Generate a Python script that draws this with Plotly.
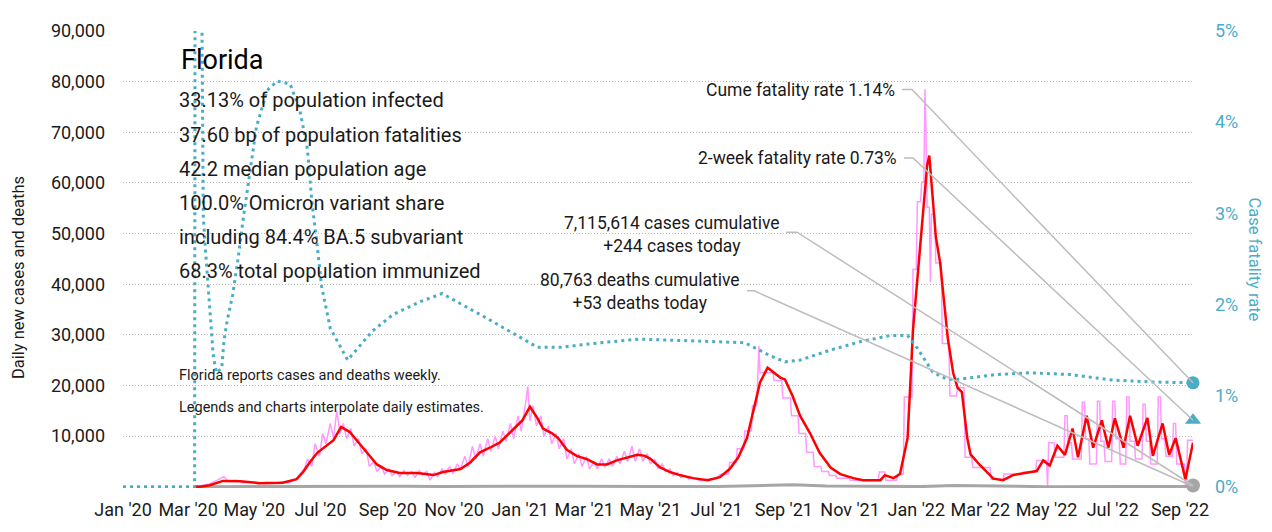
import plotly.graph_objects as go

# ---------------- data ----------------
avg_dates = [
    "2020-03-07", "2020-03-12", "2020-03-21", "2020-04-02", "2020-04-18", "2020-05-06", "2020-05-27",
    "2020-06-09", "2020-06-15", "2020-06-21", "2020-06-28", "2020-07-07", "2020-07-13", "2020-07-20",
    "2020-07-28", "2020-08-06", "2020-08-13", "2020-08-22", "2020-08-31", "2020-09-12", "2020-09-28",
    "2020-10-13", "2020-10-22", "2020-11-07", "2020-11-16", "2020-11-25", "2020-12-04", "2020-12-13",
    "2020-12-25", "2021-01-03", "2021-01-10", "2021-01-17", "2021-01-22", "2021-01-30", "2021-02-05",
    "2021-02-13", "2021-02-22", "2021-03-04", "2021-03-13", "2021-03-22", "2021-03-31", "2021-04-10",
    "2021-04-19", "2021-04-26", "2021-05-01", "2021-05-10", "2021-05-19", "2021-05-28", "2021-06-09",
    "2021-06-23", "2021-07-04", "2021-07-13", "2021-07-21", "2021-07-29", "2021-08-04", "2021-08-10",
    "2021-08-17", "2021-08-22", "2021-08-29", "2021-09-02", "2021-09-09", "2021-09-16", "2021-09-25",
    "2021-10-04", "2021-10-14", "2021-10-23", "2021-11-04", "2021-11-13", "2021-11-29", "2021-12-03",
    "2021-12-11", "2021-12-17", "2021-12-24", "2021-12-29", "2022-01-04", "2022-01-07", "2022-01-11",
    "2022-01-13", "2022-01-17", "2022-01-19", "2022-01-23", "2022-01-26", "2022-01-30", "2022-02-04",
    "2022-02-08", "2022-02-12", "2022-02-17", "2022-02-20", "2022-03-01", "2022-03-13", "2022-03-22",
    "2022-03-31", "2022-04-16", "2022-04-22", "2022-04-28", "2022-05-04", "2022-05-11", "2022-05-18",
    "2022-05-25", "2022-05-30", "2022-06-07", "2022-06-13", "2022-06-21", "2022-06-27", "2022-07-03",
    "2022-07-11", "2022-07-17", "2022-07-24", "2022-08-02", "2022-08-07", "2022-08-16", "2022-08-22",
    "2022-08-28", "2022-09-06", "2022-09-13",
]
avg_cases = [
    0, 0, 300, 1150, 1100, 700, 800,
    1500, 2900, 4800, 6700, 8100, 9200, 11800,
    10800, 8500, 6700, 4400, 3300, 2700, 2700,
    2300, 2900, 3500, 4800, 6800, 7700, 8700,
    11200, 13100, 15800, 13500, 11500, 10600, 9600,
    7300, 6100, 5400, 4400, 4400, 5200, 5800,
    6300, 6100, 5500, 3800, 2900, 2300, 1700,
    1300, 1900, 3500, 5800, 9600, 14800, 20600,
    23500, 22700, 21500, 21200, 17900, 14000, 10600,
    6700, 3800, 2500, 1700, 1300, 1300, 2300,
    1700, 2500, 9600, 31000, 46700, 53800, 63500,
    65400, 55800, 49400, 44200, 37900, 29400, 22500,
    19600, 18700, 9600, 6400, 4200, 1600, 1300,
    2300, 2900, 3100, 5200, 4200, 8100, 6300,
    11500, 5800, 14000, 7700, 13100, 7700, 13500,
    7700, 14000, 8100, 13600, 6100, 12500, 6300,
    9600, 1500, 8700,
]

raw_dates = [
    "2020-03-07", "2020-03-20", "2020-03-27", "2020-04-03", "2020-04-07", "2020-04-14", "2020-04-21",
    "2020-04-28", "2020-05-05", "2020-05-12", "2020-05-19", "2020-05-26", "2020-06-02", "2020-06-09",
    "2020-06-12", "2020-06-16", "2020-06-19", "2020-06-23", "2020-06-26", "2020-06-30", "2020-07-03",
    "2020-07-06", "2020-07-10", "2020-07-13", "2020-07-16", "2020-07-19", "2020-07-22", "2020-07-25",
    "2020-07-29", "2020-08-01", "2020-08-05", "2020-08-08", "2020-08-12", "2020-08-15", "2020-08-19",
    "2020-08-22", "2020-08-26", "2020-08-29", "2020-09-02", "2020-09-05", "2020-09-09", "2020-09-12",
    "2020-09-16", "2020-09-19", "2020-09-23", "2020-09-26", "2020-09-30", "2020-10-03", "2020-10-07",
    "2020-10-10", "2020-10-14", "2020-10-17", "2020-10-21", "2020-10-24", "2020-10-28", "2020-10-31",
    "2020-11-04", "2020-11-07", "2020-11-11", "2020-11-14", "2020-11-18", "2020-11-21", "2020-11-25",
    "2020-11-28", "2020-12-02", "2020-12-05", "2020-12-09", "2020-12-12", "2020-12-16", "2020-12-19",
    "2020-12-23", "2020-12-26", "2020-12-30", "2021-01-02", "2021-01-06", "2021-01-08", "2021-01-10",
    "2021-01-13", "2021-01-16", "2021-01-20", "2021-01-23", "2021-01-27", "2021-01-30", "2021-02-03",
    "2021-02-06", "2021-02-10", "2021-02-13", "2021-02-17", "2021-02-20", "2021-02-24", "2021-02-27",
    "2021-03-03", "2021-03-06", "2021-03-10", "2021-03-13", "2021-03-17", "2021-03-20", "2021-03-24",
    "2021-03-27", "2021-03-31", "2021-04-03", "2021-04-07", "2021-04-10", "2021-04-14", "2021-04-17",
    "2021-04-21", "2021-04-24", "2021-04-28", "2021-05-01", "2021-05-05", "2021-05-08", "2021-05-12",
    "2021-05-15", "2021-05-19", "2021-05-22", "2021-05-26", "2021-05-29", "2021-06-02", "2021-06-05",
    "2021-06-09", "2021-06-16", "2021-06-23", "2021-06-30", "2021-07-05", "2021-07-12", "2021-07-13",
    "2021-07-19", "2021-07-20", "2021-07-26", "2021-07-27", "2021-08-02", "2021-08-03", "2021-08-07",
    "2021-08-08", "2021-08-09", "2021-08-10", "2021-08-22", "2021-08-23", "2021-08-30", "2021-08-31",
    "2021-09-07", "2021-09-08", "2021-09-14", "2021-09-15", "2021-09-21", "2021-09-22", "2021-09-28",
    "2021-09-29", "2021-10-05", "2021-10-06", "2021-10-12", "2021-10-13", "2021-10-19", "2021-10-20",
    "2021-10-31", "2021-11-01", "2021-11-27", "2021-11-28", "2021-12-03", "2021-12-04", "2021-12-14",
    "2021-12-15", "2021-12-20", "2021-12-21", "2021-12-28", "2021-12-29", "2022-01-01", "2022-01-02",
    "2022-01-05", "2022-01-06", "2022-01-08", "2022-01-09", "2022-01-10", "2022-01-11", "2022-01-13",
    "2022-01-14", "2022-01-15", "2022-01-18", "2022-01-19", "2022-01-24", "2022-01-25", "2022-01-31",
    "2022-02-01", "2022-02-07", "2022-02-08", "2022-02-14", "2022-02-15", "2022-02-21", "2022-02-22",
    "2022-03-10", "2022-03-11", "2022-03-22", "2022-03-23", "2022-04-09", "2022-04-10", "2022-04-21",
    "2022-04-22", "2022-05-01", "2022-05-02", "2022-05-03", "2022-05-08", "2022-05-09", "2022-05-17",
    "2022-05-18", "2022-05-20", "2022-05-21", "2022-05-24", "2022-05-25", "2022-06-02", "2022-06-03",
    "2022-06-05", "2022-06-06", "2022-06-09", "2022-06-10", "2022-06-16", "2022-06-17", "2022-06-19",
    "2022-06-20", "2022-06-23", "2022-06-24", "2022-06-30", "2022-07-01", "2022-07-03", "2022-07-04",
    "2022-07-07", "2022-07-08", "2022-07-13", "2022-07-14", "2022-07-16", "2022-07-17", "2022-07-21",
    "2022-07-22", "2022-07-28", "2022-07-29", "2022-07-31", "2022-08-01", "2022-08-04", "2022-08-05",
    "2022-08-11", "2022-08-12", "2022-08-14", "2022-08-15", "2022-08-18", "2022-08-19", "2022-08-25",
    "2022-08-26", "2022-08-28", "2022-08-29", "2022-09-05", "2022-09-06", "2022-09-07", "2022-09-08",
    "2022-09-13",
]
raw_cases = [
    0, 500, 1200, 2000, 1100, 1300, 800,
    1000, 600, 900, 700, 1000, 800, 1500,
    2500, 3500, 5500, 4000, 8500, 6000, 10500,
    8500, 12500, 9500, 15000, 10500, 12500, 9500,
    11500, 8000, 9500, 6500, 7500, 4000, 5000,
    3000, 4000, 2500, 3500, 2200, 3000, 2000,
    3200, 2300, 3000, 1800, 3200, 2400, 3000,
    1300, 2800, 2000, 3500, 2500, 4000, 2600,
    4500, 3500, 6000, 4000, 8000, 5500, 8500,
    6000, 9500, 7000, 10000, 7500, 11000, 9000,
    12500, 9500, 14000, 11000, 16500, 19800, 13000,
    16000, 12000, 14000, 10000, 12000, 8500, 10500,
    7500, 9500, 5500, 7500, 4500, 6500, 4000,
    6000, 3500, 5000, 3500, 5500, 3800, 5500,
    4000, 6000, 4500, 7000, 5000, 8000, 5000,
    7500, 5000, 6500, 4500, 5500, 3500, 4500,
    3000, 3500, 2200, 2800, 1800, 2200, 1500,
    1800, 1200, 1500, 1600, 2500, 2500, 4800,
    4800, 7500, 7500, 11000, 11000, 16000, 16000,
    21500, 27800, 22500, 22500, 21000, 21000, 17500,
    17500, 14000, 14000, 10500, 10500, 6800, 6800,
    4000, 4000, 3000, 3000, 2200, 2200, 1700,
    1700, 1300, 1300, 2900, 2900, 1300, 1300,
    2500, 2500, 17700, 17700, 42900, 42900, 56300,
    56300, 60200, 60200, 78500, 70000, 55200, 55200,
    40400, 53800, 53800, 44200, 44200, 28300, 28300,
    17900, 17900, 19600, 19600, 5800, 5800, 3800,
    3800, 1500, 1500, 2500, 2500, 2900, 2900,
    5200, 5200, 0, 8700, 8700, 5800, 5800,
    14000, 14000, 8700, 8700, 5500, 5500, 16700,
    16700, 9500, 9500, 4500, 4500, 16900, 16900,
    9000, 9000, 5000, 5000, 16900, 16900, 9500,
    9500, 4500, 4500, 17700, 17700, 9000, 9000,
    5500, 5500, 16300, 16300, 9000, 9000, 4500,
    4500, 17700, 17700, 9500, 9500, 6000, 6000,
    12500, 12500, 4500, 4500, 0, 0, 9200,
    9200,
]

death_dates = [
    "2020-03-07", "2020-04-15", "2020-06-15", "2020-07-25", "2020-08-15", "2020-09-15", "2020-10-20",
    "2020-12-15", "2021-01-20", "2021-03-01", "2021-05-01", "2021-07-01", "2021-08-20", "2021-09-10",
    "2021-10-10", "2021-11-15", "2022-01-05", "2022-02-05", "2022-03-05", "2022-05-01", "2022-07-15",
    "2022-09-13",
]
deaths = [
    0, 50, 40, 180, 200, 110, 70,
    100, 170, 90, 60, 40, 300, 380,
    150, 40, 30, 220, 120, 20, 50,
    53,
]

cfr_dates = [
    "2020-01-01", "2020-03-07", "2020-03-08", "2020-03-13", "2020-03-14", "2020-03-15", "2020-03-17",
    "2020-03-20", "2020-03-22", "2020-03-24", "2020-03-27", "2020-04-01", "2020-04-03", "2020-04-06",
    "2020-04-11", "2020-04-16", "2020-04-21", "2020-04-25", "2020-05-03", "2020-05-13", "2020-05-22",
    "2020-06-03", "2020-06-12", "2020-06-19", "2020-06-23", "2020-06-28", "2020-07-02", "2020-07-10",
    "2020-07-26", "2020-08-18", "2020-09-06", "2020-10-01", "2020-10-21", "2020-12-01", "2021-01-17",
    "2021-02-07", "2021-03-16", "2021-04-21", "2021-06-16", "2021-07-27", "2021-08-19", "2021-09-02",
    "2021-09-16", "2021-10-14", "2021-11-10", "2021-12-08", "2021-12-24", "2022-01-02", "2022-01-09",
    "2022-01-16", "2022-01-29", "2022-02-10", "2022-03-15", "2022-04-16", "2022-05-23", "2022-07-01",
    "2022-08-05", "2022-09-13",
]
cfr_pct = [
    0, 0, 15, 6, 3.8, 2.96, 2.6,
    2.06, 1.71, 1.46, 1.25, 1.3, 1.6, 1.82,
    2.1, 2.5, 2.96, 3.3, 3.95, 4.35, 4.45,
    4.42, 4.13, 3.7, 3.13, 2.64, 2.2, 1.74,
    1.39, 1.71, 1.89, 2.03, 2.12, 1.85, 1.53,
    1.53, 1.58, 1.62, 1.6, 1.58, 1.44, 1.37,
    1.39, 1.5, 1.59, 1.66, 1.66, 1.52, 1.39,
    1.26, 1.18, 1.18, 1.23, 1.25, 1.23, 1.17,
    1.15, 1.14,
]

last_date = "2022-09-13"
cume_cfr = 1.14
two_week_cfr = 0.73
cases_today = 244
deaths_today = 53

state_name = "Florida"
info_lines = [
    "33.13% of population infected",
    "37.60 bp of population fatalities",
    "42.2 median population age",
    "100.0% Omicron variant share",
    "including 84.4% BA.5 subvariant",
    "68.3% total population immunized",
]
note_lines = [
    "Florida reports cases and deaths weekly.",
    "Legends and charts interpolate daily estimates.",
]
cases_label = "7,115,614 cases cumulative<br>+244 cases today"
deaths_label = "80,763 deaths cumulative<br>+53 deaths today"
cume_label = "Cume fatality rate 1.14%"
twoweek_label = "2-week fatality rate 0.73%"

left_ticks = [10000, 20000, 30000, 40000, 50000, 60000, 70000, 80000, 90000]
left_max = 90000
right_ticks = [0, 1, 2, 3, 4, 5]
right_labels = ["0%", "1%", "2%", "3%", "4%", "5%"]
right_max = 5
left_min = -250  # small pad so the baseline deaths line is not half clipped

# ---------------- styling ----------------
FONT = "Roboto, sans-serif"
TEAL = "#4BACC6"
RED = "#FF0000"
PINK = "#FF99FF"
GREY = "#A6A6A6"
LEADER = "#BDBDBD"
TXT = "#1a1a1a"

# page body has an 8px margin, so the figure is 8px smaller and drawn at (8, 8)
OFF = 8
W, H = 1272 - OFF, 532 - OFF
L, R, T, B = 123, 1193, 22, 490   # plot area in reference-image pixels


def px(X):
    return (X - L) / (R - L)


def py(Y):
    return (B - Y) / (B - T)


fig = go.Figure()

fig.add_trace(go.Scatter(x=raw_dates, y=raw_cases, mode="lines",
                         line=dict(color=PINK, width=1.5), hoverinfo="skip"))
fig.add_trace(go.Scatter(x=death_dates, y=deaths, mode="lines",
                         line=dict(color=GREY, width=3), hoverinfo="skip"))
fig.add_trace(go.Scatter(x=avg_dates, y=avg_cases, mode="lines",
                         line=dict(color=RED, width=2.5), hoverinfo="skip"))
fig.add_trace(go.Scatter(x=cfr_dates, y=cfr_pct, mode="lines", yaxis="y2",
                         line=dict(color=TEAL, width=3, dash="3px,4px"), hoverinfo="skip"))

# end markers
fig.add_trace(go.Scatter(x=[last_date], y=[cases_today], mode="markers", cliponaxis=False,
                         marker=dict(color=GREY, size=14, symbol="circle"), hoverinfo="skip"))
fig.add_trace(go.Scatter(x=[last_date], y=[cume_cfr], yaxis="y2", mode="markers", cliponaxis=False,
                         marker=dict(color=TEAL, size=13, symbol="circle"), hoverinfo="skip"))
fig.add_trace(go.Scatter(x=[last_date], y=[two_week_cfr], yaxis="y2", mode="markers", cliponaxis=False,
                         marker=dict(color=TEAL, size=14, symbol="triangle-up"), hoverinfo="skip"))

annotations = []
annotations.append(dict(x=px(179), y=py(52), xref="paper", yref="paper", text=state_name,
                        showarrow=False, xanchor="left", yanchor="middle",
                        font=dict(family=FONT, size=27, color="#000")))
for i, line in enumerate(info_lines):
    annotations.append(dict(x=px(177), y=py(93 + 35 * i), xref="paper", yref="paper", text=line,
                            showarrow=False, xanchor="left", yanchor="middle",
                            font=dict(family=FONT, size=20, color=TXT)))
for i, line in enumerate(note_lines):
    annotations.append(dict(x=px(177), y=py(375 + 33 * i), xref="paper", yref="paper", text=line,
                            showarrow=False, xanchor="left", yanchor="middle",
                            font=dict(family=FONT, size=14.5, color=TXT)))

annotations.append(dict(x=px(897), y=py(82), xref="paper", yref="paper", text=cume_label,
                        showarrow=False, xanchor="right", yanchor="middle",
                        font=dict(family=FONT, size=17.5, color=TXT)))
annotations.append(dict(x=px(899), y=py(152), xref="paper", yref="paper", text=twoweek_label,
                        showarrow=False, xanchor="right", yanchor="middle",
                        font=dict(family=FONT, size=17.5, color=TXT)))
annotations.append(dict(x=px(672), y=py(230), xref="paper", yref="paper", text=cases_label,
                        showarrow=False, xanchor="center", yanchor="middle", align="center",
                        font=dict(family=FONT, size=17.5, color=TXT)))
annotations.append(dict(x=px(640), y=py(289), xref="paper", yref="paper", text=deaths_label,
                        showarrow=False, xanchor="center", yanchor="middle", align="center",
                        font=dict(family=FONT, size=17.5, color=TXT)))

# axis titles
annotations.append(dict(x=px(18), y=py(275), xref="paper", yref="paper",
                        text="Daily new cases and deaths", textangle=-90, showarrow=False,
                        xanchor="center", yanchor="middle",
                        font=dict(family=FONT, size=16.5, color=TXT)))
annotations.append(dict(x=px(1254), y=py(256), xref="paper", yref="paper",
                        text="Case fatality rate", textangle=90, showarrow=False,
                        xanchor="center", yanchor="middle",
                        font=dict(family=FONT, size=16.5, color=TEAL)))

# leader lines (paper coords): text end -> short horizontal -> end marker
left_span = left_max - left_min
right_min = left_min / left_max * right_max
right_span = right_max - right_min
shapes = []
leaders = [
    ((902, 82), (912, 82), (cume_cfr - right_min) / right_span),
    ((904, 152), (913, 152), (two_week_cfr - right_min) / right_span),
    ((786, 228), (797, 228), (cases_today - left_min) / left_span),
    ((747, 288), (754, 288), (deaths_today - left_min) / left_span),
]
for (a, b, yend) in leaders:
    path = "M {:.5f},{:.5f} L {:.5f},{:.5f} L 1,{:.5f}".format(px(a[0]), py(a[1]), px(b[0]), py(b[1]), yend)
    shapes.append(dict(type="path", path=path, xref="paper", yref="paper",
                       line=dict(color=LEADER, width=1.5), layer="above"))

fig.update_layout(
    width=W, height=H,
    margin=dict(l=L - OFF, r=(1272 - R), t=T - OFF, b=(532 - B), pad=0),
    paper_bgcolor="white", plot_bgcolor="white",
    showlegend=False,
    font=dict(family=FONT, size=18, color=TXT),
    xaxis=dict(type="date", range=["2020-01-01", last_date], tick0="2020-01-01", dtick="M2",
               tickformat="%b '%y", showgrid=False, zeroline=False, showline=False, ticks="",
               ticklabelstandoff=9, tickfont=dict(family=FONT, size=18, color=TXT)),
    yaxis=dict(range=[left_min, left_max], tickvals=left_ticks, tickformat=",d", showgrid=True,
               gridcolor="#BBBBBB", griddash="1px,2px", gridwidth=1, zeroline=False, showline=False,
               ticks="", ticklabelstandoff=17, tickfont=dict(family=FONT, size=18, color=TXT)),
    yaxis2=dict(range=[right_min, right_max], tickvals=right_ticks, ticktext=right_labels,
                tickmode="array", overlaying="y",
                side="right", showgrid=False, zeroline=False, showline=False, ticks="",
                ticklabelstandoff=21, tickfont=dict(family=FONT, size=18, color=TEAL)),
    annotations=annotations,
    shapes=shapes,
)

fig.write_html("out.html")
